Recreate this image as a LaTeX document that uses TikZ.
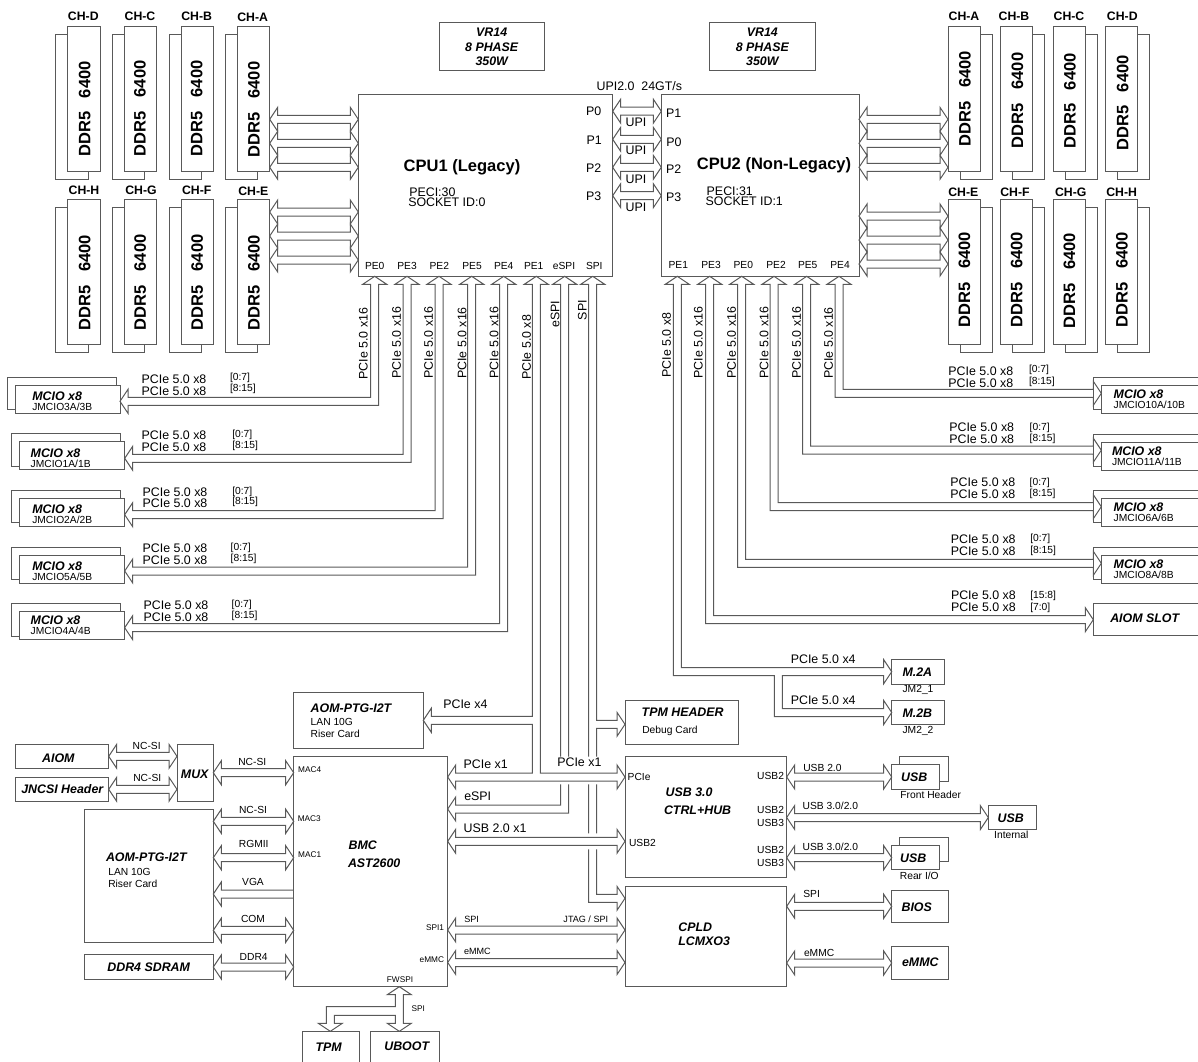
\documentclass[tikz,border=0pt]{standalone}
\usepackage{fontspec}
\setmainfont{Liberation Sans}
\usetikzlibrary{calc,fit}

\definecolor{linecol}{gray}{0.35}

\tikzset{
  block/.style={draw=linecol, line width=.75pt, fill=white, inner sep=0pt, outer sep=0pt},
  bus/.style={draw=linecol, line width=.75pt, line join=miter},
  txt/.style={inner sep=0pt, outer sep=0pt, text=black},
  bigbold/.style={txt, font=\fontsize{12.4}{14}\selectfont\bfseries},
  chanbold/.style={txt, font=\fontsize{9.2}{11}\selectfont\bfseries},
  boxtitle/.style={txt, font=\fontsize{9.3}{11}\selectfont\bfseries\itshape},
  mainlab/.style={txt, font=\fontsize{9.3}{11}\selectfont},
  minorlab/.style={txt, font=\fontsize{7.7}{9}\selectfont},
  pinlab/.style={txt, font=\fontsize{6.2}{7}\selectfont}
}

\newcommand{\hbus}[3]{
  \draw[bus] (#1.east|-0,#3) -- ++(8,-12) -- ++(0,8) -- ($(#2.west|-0,#3)+(-8,-4)$) -- ++(0,-8) -- (#2.west|-0,#3)
    -- ++(-8,12) -- ++(0,-8) -- ($(#1.east|-0,#3)+(8,4)$) -- ++(0,8) -- cycle;
}
\newcommand{\lbus}[3]{
  \draw[bus] (#2.west|-0,#3-4) -- ($(#1.east|-0,#3)+(8,-4)$) -- ++(0,-8) -- (#1.east|-0,#3) -- ++(8,12) -- ++(0,-8) -- (#2.west|-0,#3+4);
}
\newcommand{\busleft}[4]{
  \draw[bus] (#1.south-|#2,0) -- ++(-12,8) -- ++(8,0) -- (#2-4,#3-4) -- ($(#4.east|-0,#3)+(8,-4)$) -- ++(0,-8) -- (#4.east|-0,#3)
    -- ++(8,12) -- ++(0,-8) -- (#2+4,#3+4) -- ($(#1.south-|#2,0)+(4,8)$) -- ++(8,0) -- cycle;
}
\newcommand{\busright}[4]{
  \draw[bus] (#1.south-|#2,0) -- ++(12,8) -- ++(-8,0) -- (#2+4,#3-4) -- ($(#4.west|-0,#3)+(-8,-4)$) -- ++(0,-8) -- (#4.west|-0,#3)
    -- ++(-8,12) -- ++(0,-8) -- (#2-4,#3+4) -- ($(#1.south-|#2,0)+(-4,8)$) -- ++(-8,0) -- cycle;
}
\newcommand{\dimml}[8]{
  \draw[bus] (#2,#3+8) -- (#2-12,#3+8) -- (#2-12,#3+153) -- (#2+20.6,#3+153) -- (#2+20.6,#3+145);
  \node[block, fit={(#2,#3)(#2+32.4,#3+145)}] (#1) {};
  \node[chanbold] (#1lab) at (#5,#6) {#4};
  \node[bigbold, rotate=90] (#1txt) at (#7,#8) {DDR5\ \ \ 6400};
}
\newcommand{\dimmr}[8]{
  \draw[bus] (#2+32.4,#3+8) -- (#2+44.4,#3+8) -- (#2+44.4,#3+153) -- (#2+12,#3+153) -- (#2+12,#3+145);
  \node[block, fit={(#2,#3)(#2+32.4,#3+145)}] (#1) {};
  \node[chanbold] (#1lab) at (#5,#6) {#4};
  \node[bigbold, rotate=90] (#1txt) at (#7,#8) {DDR5\ \ \ 6400};
}
\newcommand{\mciol}[8]{
  \draw[bus] (#2,#4+24.4) -- (#2-8,#4+24.4) -- (#2-8,#4-8) -- (#3-4,#4-8) -- (#3-4,#4);
  \node[block, fit={(#2,#4)(#3,#4+28)}] (#1) {};
  \node[boxtitle, anchor=west] (#1tit) at (#5,#6) {MCIO x8};
  \node[minorlab, anchor=west] (#1jm) at (#5,#7) {#8};
}
\newcommand{\mcior}[7]{
  \draw[bus] (#2,#3+24) -- (#2-8,#3+24) -- (#2-8,#3-8) -- (1199,#3-8);
  \node[block, fit={(#2,#3)(1199,#3+28)}] (#1) {};
  \node[boxtitle, anchor=west] (#1tit) at (#4,#5) {MCIO x8};
  \node[minorlab, anchor=west] (#1jm) at (#4,#6) {#7};
}
\newcommand{\pcielabs}[9]{
  \node[mainlab] (#1a) at (#2,#3) {PCIe 5.0 x8};
  \node[mainlab] (#1b) at (#2,#4) {PCIe 5.0 x8};
  \node[minorlab, anchor=west] (#1c) at (#5,#6) {#8};
  \node[minorlab, anchor=west] (#1d) at (#5,#7) {#9};
}

\begin{document}
\begin{tikzpicture}[x=.75pt,y=-.75pt]
  \useasboundingbox (0,0) rectangle (1198,1061);

  \dimml{chd}{67.7}{26.7}{CH-D}{83.3}{16.7}{84.7}{109}
  \dimml{chc}{124.3}{26.7}{CH-C}{140}{16.7}{140}{108.3}
  \dimml{chb}{181}{26.7}{CH-B}{196.7}{16.7}{196.7}{108.3}
  \dimml{cha}{237.3}{26.7}{CH-A}{252.7}{17.3}{254}{109.5}
  \dimml{chh}{67.7}{199.7}{CH-H}{84}{190.7}{84.7}{282.7}
  \dimml{chg}{124.3}{199.7}{CH-G}{141}{190.7}{140.3}{282.3}
  \dimml{chf}{181}{199.7}{CH-F}{196.7}{190.7}{197.3}{282.3}
  \dimml{che}{237.3}{199.7}{CH-E}{253.3}{191.7}{254}{282.7}

  \dimmr{rcha}{948}{26.7}{CH-A}{964}{16.7}{965}{98.7}
  \dimmr{rchb}{1000.3}{26.7}{CH-B}{1014}{16.7}{1017.3}{100.5}
  \dimmr{rchc}{1053}{26.7}{CH-C}{1069}{16.7}{1070}{101}
  \dimmr{rchd}{1105.3}{26.7}{CH-D}{1122.3}{16.7}{1122.7}{103}
  \dimmr{rche}{948}{199.7}{CH-E}{963.3}{192}{964.3}{279.7}
  \dimmr{rchf}{1000.3}{199.7}{CH-F}{1015}{192}{1016.7}{279.7}
  \dimmr{rchg}{1053}{199.7}{CH-G}{1070.7}{192}{1069.3}{280.8}
  \dimmr{rchh}{1105.3}{199.7}{CH-H}{1121.7}{192}{1122}{279.7}

  \node[block, fit={(439,22.3)(544.7,70.7)}] (vra) {};
  \node[boxtitle, align=center] (vratxt) at (491.7,47) {VR14\\[-.2pt]8 PHASE\\[-.4pt]350W};
  \node[block, fit={(709.3,22.3)(815,70.7)}] (vrb) {};
  \node[boxtitle, align=center] (vrbtxt) at (762.3,47) {VR14\\[-.2pt]8 PHASE\\[-.4pt]350W};

  \node[block, fit={(358.3,94.7)(612.7,276.3)}] (cpua) {};
  \node[block, fit={(661.3,94.7)(859,276.3)}] (cpub) {};
  \node[bigbold] (cpuatit) at (462,167.3) {CPU1 (Legacy)};
  \node[bigbold] (cpubtit) at (774,165.3) {CPU2 (Non-Legacy)};
  \node[mainlab, anchor=west] (cpuapeci) at (409.3,192.3) {PECI:30};
  \node[mainlab, anchor=west] (cpuasock) at (408.3,202.7) {SOCKET ID:0};
  \node[mainlab, anchor=west] (cpubpeci) at (706.7,191) {PECI:31};
  \node[mainlab, anchor=west] (cpubsock) at (705.7,201.7) {SOCKET ID:1};
  \node[mainlab] (upispeed) at (639.3,86) {UPI2.0\ \ 24GT/s};

  \node[mainlab] (pa0) at (593.7,111.3) {P0};
  \node[mainlab] (pa1) at (594.3,140) {P1};
  \node[mainlab] (pa2) at (593.7,168.3) {P2};
  \node[mainlab] (pa3) at (593.7,196.7) {P3};
  \node[mainlab] (pb1) at (673.7,113.7) {P1};
  \node[mainlab] (pb0) at (674,142.3) {P0};
  \node[mainlab] (pb2) at (673.7,169.3) {P2};
  \node[mainlab] (pb3) at (673.7,197.7) {P3};
  \node[mainlab] (upia) at (636,122.7) {UPI};
  \node[mainlab] (upib) at (636,150.7) {UPI};
  \node[mainlab] (upic) at (636,179) {UPI};
  \node[mainlab] (upid) at (636,207) {UPI};

  \node[minorlab] (pea0) at (374.7,266) {PE0};
  \node[minorlab] (pea3) at (407,266) {PE3};
  \node[minorlab] (pea2) at (439.3,266) {PE2};
  \node[minorlab] (pea5) at (472,266) {PE5};
  \node[minorlab] (pea4) at (503.7,266) {PE4};
  \node[minorlab] (pea1) at (533.7,266) {PE1};
  \node[minorlab] (peaes) at (564,266) {eSPI};
  \node[minorlab] (peasp) at (594.3,266) {SPI};
  \node[minorlab] (peb1) at (678.3,265.3) {PE1};
  \node[minorlab] (peb3) at (711,265.3) {PE3};
  \node[minorlab] (peb0) at (743.3,265.3) {PE0};
  \node[minorlab] (peb2) at (776,265.3) {PE2};
  \node[minorlab] (peb5) at (807.7,265.3) {PE5};
  \node[minorlab] (peb4) at (840,265.3) {PE4};

  \node[mainlab, rotate=90] (wa0) at (363.3,343.7) {PCIe 5.0 x16};
  \node[mainlab, rotate=90] (wa3) at (396.7,342.7) {PCIe 5.0 x16};
  \node[mainlab, rotate=90] (wa2) at (428.7,342.7) {PCIe 5.0 x16};
  \node[mainlab, rotate=90] (wa5) at (462,343) {PCIe 5.0 x16};
  \node[mainlab, rotate=90] (wa4) at (494,342.7) {PCIe 5.0 x16};
  \node[mainlab, rotate=90] (wa1) at (526.7,347.3) {PCIe 5.0 x8};
  \node[mainlab, rotate=90] (waes) at (555,314) {eSPI};
  \node[mainlab, rotate=90] (wasp) at (582.3,310) {SPI};
  \node[mainlab, rotate=90] (wb1) at (666.7,345) {PCIe 5.0 x8};
  \node[mainlab, rotate=90] (wb3) at (698.3,342.7) {PCIe 5.0 x16};
  \node[mainlab, rotate=90] (wb0) at (731.7,342.7) {PCIe 5.0 x16};
  \node[mainlab, rotate=90] (wb2) at (764,342.7) {PCIe 5.0 x16};
  \node[mainlab, rotate=90] (wb5) at (796.5,342.7) {PCIe 5.0 x16};
  \node[mainlab, rotate=90] (wb4) at (828.5,343) {PCIe 5.0 x16};

  \mciol{jmcioa}{15.3}{120}{385.3}{32.3}{396.3}{407}{JMCIO3A/3B}
  \mciol{jmciob}{19.3}{124.7}{441.7}{30.7}{453.7}{464.3}{JMCIO1A/1B}
  \mciol{jmcioc}{19.3}{124.7}{498.3}{32.3}{509.7}{520.3}{JMCIO2A/2B}
  \mciol{jmciod}{19.3}{124.7}{555}{32.3}{566.7}{577}{JMCIO5A/5B}
  \mciol{jmcioe}{19.3}{124.7}{611.7}{30.7}{620}{631}{JMCIO4A/4B}
  \pcielabs{la}{174}{379.7}{391.3}{230}{378.3}{389.3}{[0:7]}{[8:15]}
  \pcielabs{lb}{174}{435.3}{447}{232.3}{435.3}{446}{[0:7]}{[8:15]}
  \pcielabs{lc}{175}{492}{503.7}{232.3}{491.7}{502.3}{[0:7]}{[8:15]}
  \pcielabs{ld}{175}{548.7}{560.3}{230.7}{548.3}{559.3}{[0:7]}{[8:15]}
  \pcielabs{le}{176}{605}{617}{231.7}{605}{615.7}{[0:7]}{[8:15]}

  \mcior{jmciok}{1101.3}{385.7}{1113.7}{394.3}{405}{JMCIO10A/10B}
  \mcior{jmcioj}{1101.3}{442}{1112}{451.3}{462.3}{JMCIO11A/11B}
  \mcior{jmcioh}{1101.3}{498.3}{1113.7}{507.7}{518.3}{JMCIO6A/6B}
  \mcior{jmciog}{1101.3}{555}{1113.7}{564.3}{575.3}{JMCIO8A/8B}
  \node[block, fit={(1093.3,603.3)(1199,635.3)}] (aiomslot) {};
  \node[boxtitle] (aiomslottxt) at (1144.7,618.3) {AIOM SLOT};
  \pcielabs{ra}{980.8}{371}{383}{1029}{370.3}{381.7}{[0:7]}{[8:15]}
  \pcielabs{rb}{981.7}{427.3}{439.3}{1029.7}{427.7}{438.7}{[0:7]}{[8:15]}
  \pcielabs{rc}{982.8}{482.7}{494.7}{1029.7}{482.7}{494.3}{[0:7]}{[8:15]}
  \pcielabs{rd}{983.2}{539.3}{551.3}{1030.3}{539.3}{551}{[0:7]}{[8:15]}
  \pcielabs{re}{983.4}{595.7}{607.3}{1030.3}{595.7}{607.7}{[15:8]}{[7:0]}

  \node[block, fit={(891.7,659.7)(944.3,684)}] (mtwoa) {};
  \node[boxtitle] (mtwoatxt) at (917.3,672.3) {M.2A};
  \node[minorlab] (mtwoajm) at (918,690) {JM2\_1};
  \node[block, fit={(891.7,700.3)(944.3,724.7)}] (mtwob) {};
  \node[boxtitle] (mtwobtxt) at (917.3,713.3) {M.2B};
  \node[minorlab] (mtwobjm) at (918,730.7) {JM2\_2};
  \node[mainlab] (mtwoalab) at (823.2,659.7) {PCIe 5.0 x4};
  \node[mainlab] (mtwoblab) at (823.2,700) {PCIe 5.0 x4};

  \node[block, fit={(293.7,692.7)(423.3,748.3)}] (aoma) {};
  \node[boxtitle, anchor=west] (aomatit) at (310.7,708) {AOM-PTG-I2T};
  \node[minorlab, anchor=west] (aomalan) at (310.7,722.3) {LAN 10G};
  \node[minorlab, anchor=west] (aomaris) at (310.7,734) {Riser Card};
  \node[block, fit={(625,700.3)(738,744.3)}] (tpmhdr) {};
  \node[boxtitle, anchor=west] (tpmhdrtit) at (641.7,712.3) {TPM HEADER};
  \node[minorlab, anchor=west] (tpmhdrdbg) at (642.3,730.8) {Debug Card};

  \node[block, fit={(293.7,756.7)(447.7,986.7)}] (bmc) {};
  \node[boxtitle, anchor=west] (bmctita) at (348.7,845.3) {BMC};
  \node[boxtitle, anchor=west] (bmctitb) at (348,863.3) {AST2600};
  \node[pinlab] (macf) at (309.7,770) {MAC4};
  \node[pinlab] (macc) at (309.3,818.7) {MAC3};
  \node[pinlab] (maca) at (309.7,855) {MAC1};
  \node[pinlab, anchor=east] (spione) at (444,927.7) {SPI1};
  \node[pinlab, anchor=east] (bmcemmc) at (444,960) {eMMC};
  \node[pinlab] (fwspi) at (400,980) {FWSPI};

  \node[block, fit={(15.3,744.7)(108.7,768.7)}] (aiom) {};
  \node[boxtitle] (aiomtxt) at (58.3,758) {AIOM};
  \node[block, fit={(15.3,777)(108.7,801.3)}] (jncsi) {};
  \node[boxtitle] (jncsitxt) at (62.3,788.7) {JNCSI Header};
  \node[block, fit={(177,744.7)(213.3,801.3)}] (mux) {};
  \node[boxtitle] (muxtxt) at (194.7,774.3) {MUX};
  \node[block, fit={(84,809.3)(213.3,942.3)}] (aomb) {};
  \node[boxtitle, anchor=west] (aombtit) at (106,857.7) {AOM-PTG-I2T};
  \node[minorlab, anchor=west] (aomblan) at (108.3,872.3) {LAN 10G};
  \node[minorlab, anchor=west] (aombris) at (108.3,884) {Riser Card};
  \node[block, fit={(84,954.7)(213.3,979)}] (ddrfour) {};
  \node[boxtitle] (ddrfourtxt) at (148.7,967) {DDR4 SDRAM};

  \node[minorlab] (ncsia) at (146.7,746.3) {NC-SI};
  \node[minorlab] (ncsib) at (147.3,777.7) {NC-SI};
  \node[minorlab] (ncsic) at (252.3,761.7) {NC-SI};
  \node[minorlab] (ncsid) at (253,810) {NC-SI};
  \node[minorlab] (rgmii) at (253.7,844.3) {RGMII};
  \node[minorlab] (vgalab) at (253,882.3) {VGA};
  \node[minorlab] (comlab) at (253,918.7) {COM};
  \node[minorlab] (ddrlab) at (253.7,957.3) {DDR4};

  \node[block, fit={(302,1031.3)(359,1063)}] (tpm) {};
  \node[boxtitle] (tpmtxt) at (328.7,1047.7) {TPM};
  \node[block, fit={(370.3,1031.3)(439.3,1063)}] (uboot) {};
  \node[boxtitle] (uboottxt) at (406.7,1046.7) {UBOOT};
  \node[pinlab] (fwlab) at (418.3,1008.3) {SPI};

  \node[block, fit={(625,756.7)(786.7,877.7)}] (usbhub) {};
  \node[boxtitle, anchor=west] (usbhuba) at (665.7,792.7) {USB 3.0};
  \node[boxtitle, anchor=west] (usbhubb) at (664,810.7) {CTRL+HUB};
  \node[minorlab, anchor=west] (usbpcie) at (627.7,777.3) {PCIe};
  \node[minorlab, anchor=west] (usbusbl) at (629,842.7) {USB2};
  \node[minorlab, anchor=east] (usbra) at (784,776) {USB2};
  \node[minorlab, anchor=east] (usbrb) at (784,810) {USB2};
  \node[minorlab, anchor=east] (usbrc) at (784,823.3) {USB3};
  \node[minorlab, anchor=east] (usbrd) at (784,850.3) {USB2};
  \node[minorlab, anchor=east] (usbre) at (784,863.3) {USB3};
  \node[block, fit={(625,886)(786.7,986.7)}] (cpld) {};
  \node[boxtitle, anchor=west] (cplda) at (678.3,927.3) {CPLD};
  \node[boxtitle, anchor=west] (cpldb) at (678.3,941.7) {LCMXO3};

  \draw[bus] (899.3,764.7) -- (899.3,756.7) -- (948.3,756.7) -- (948.3,781) -- (939.7,781);
  \node[block, fit={(891.7,764.7)(939.7,789)}] (usbfront) {};
  \node[boxtitle] (usbfronttxt) at (914.3,777.3) {USB};
  \node[minorlab] (usbfrontlab) at (930.7,795) {Front Header};
  \node[block, fit={(988.3,805.3)(1036.7,829.7)}] (usbint) {};
  \node[boxtitle] (usbinttxt) at (1010.7,818.3) {USB};
  \node[minorlab] (usbintlab) at (1011.3,835) {Internal};
  \draw[bus] (899.3,845.3) -- (899.3,837.3) -- (948.3,837.3) -- (948.3,861.7) -- (939.7,861.7);
  \node[block, fit={(891.7,845.3)(939.7,869.7)}] (usbrear) {};
  \node[boxtitle] (usbreartxt) at (913.3,858) {USB};
  \node[minorlab] (usbrearlab) at (919.3,875.7) {Rear I/O};
  \node[block, fit={(891.7,890)(948.3,922.3)}] (bios) {};
  \node[boxtitle] (biostxt) at (916.7,907) {BIOS};
  \node[block, fit={(891.7,946.7)(948.3,979.3)}] (emmc) {};
  \node[boxtitle] (emmctxt) at (920.3,962.7) {eMMC};

  \node[minorlab, anchor=west] (usbtwo) at (803.3,767.7) {USB 2.0};
  \node[minorlab, anchor=west] (usbtha) at (802.7,806.3) {USB 3.0/2.0};
  \node[minorlab, anchor=west] (usbthb) at (802.7,847) {USB 3.0/2.0};
  \node[minorlab, anchor=west] (biospi) at (803.3,894.3) {SPI};
  \node[minorlab, anchor=west] (emmclab) at (804,952.7) {eMMC};
  \node[mainlab, anchor=west] (pciefour) at (443.3,704.3) {PCIe x4};
  \node[mainlab, anchor=west] (pcieonea) at (463.7,764.3) {PCIe x1};
  \node[mainlab, anchor=west] (pcieoneb) at (557.3,762.7) {PCIe x1};
  \node[mainlab, anchor=west] (espilab) at (464.3,796) {eSPI};
  \node[mainlab, anchor=west] (usbxone) at (463.7,828.7) {USB 2.0 x1};
  \node[pinlab, font=\fontsize{6.8}{8}\selectfont, anchor=west] (cpldspi) at (464.3,919.3) {SPI};
  \node[pinlab, font=\fontsize{6.8}{8}\selectfont] (jtagspi) at (585.8,919.3) {JTAG / SPI};
  \node[pinlab, font=\fontsize{6.8}{8}\selectfont, anchor=west] (cpldemmc) at (464,951.7) {eMMC};

  \hbus{cha}{cpua}{119.3}
  \hbus{cha}{cpua}{143.3}
  \hbus{cha}{cpua}{167.3}
  \hbus{che}{cpua}{212}
  \hbus{che}{cpua}{236}
  \hbus{che}{cpua}{260}
  \hbus{cpub}{rcha}{119.3}
  \hbus{cpub}{rcha}{143.3}
  \hbus{cpub}{rcha}{167.3}
  \hbus{cpub}{rche}{216}
  \hbus{cpub}{rche}{240}
  \hbus{cpub}{rche}{264}
  \hbus{cpua}{cpub}{111.2}
  \hbus{cpua}{cpub}{139.3}
  \hbus{cpua}{cpub}{167.3}
  \hbus{cpua}{cpub}{195.7}

  \busleft{cpua}{374.7}{401.3}{jmcioa}
  \busleft{cpua}{407}{458.3}{jmciob}
  \busleft{cpua}{439}{514.7}{jmcioc}
  \busleft{cpua}{471.7}{571}{jmciod}
  \busleft{cpua}{503.7}{627.7}{jmcioe}
  \busright{cpub}{839}{393.3}{jmciok}
  \busright{cpub}{806.7}{450.2}{jmcioj}
  \busright{cpub}{774}{506.7}{jmcioh}
  \busright{cpub}{741.7}{563.3}{jmciog}
  \busright{cpub}{709.7}{619.7}{aiomslot}

  \draw[bus] (cpub.south-|677.3,0) -- ++(12,8) -- ++(-8,0) -- (681.3,667.7) -- ($(mtwoa.west|-0,671.7)+(-8,-4)$) -- ++(0,-8) -- (mtwoa.west|-0,671.7)
    -- ++(-8,12) -- ++(0,-8) -- (782.3,675.7) -- (782.3,708.5) -- ($(mtwob.west|-0,712.5)+(-8,-4)$) -- ++(0,-8) -- (mtwob.west|-0,712.5)
    -- ++(-8,12) -- ++(0,-8) -- (774.3,716.5) -- (774.3,675.7) -- (673.3,675.7) -- (673.3,284.3) -- ++(-8,0) -- cycle;

  \draw[bus] (cpua.south-|536.3,0) -- ++(12,8) -- ++(-8,0) -- (540.3,773) -- ($(usbhub.west|-0,777)+(-8,-4)$) -- ++(0,-8) -- (usbhub.west|-0,777)
    -- ++(-8,12) -- ++(0,-8) -- ($(bmc.east|-0,777)+(8,4)$) -- ++(0,8) -- (bmc.east|-0,777) -- ++(8,-12) -- ++(0,8)
    -- (532.3,773) -- (532.3,724.3) -- ($(aoma.east|-0,720.3)+(8,4)$) -- ++(0,8) -- (aoma.east|-0,720.3) -- ++(8,-12) -- ++(0,8)
    -- (532.3,716.3) -- (532.3,284.3) -- ++(-8,0) -- cycle;

  \draw[bus] (bmc.east|-0,809) -- ++(8,-12) -- ++(0,8) -- (560.7,805) -- (560.7,784.3) (560.7,756.7) -- (560.7,284.3) -- ++(-8,0)
    -- (cpua.south-|564.7,0) -- ++(12,8) -- ++(-8,0) -- (568.7,756.7) (568.7,784.3) -- (568.7,813) -- ($(bmc.east|-0,809)+(8,4)$) -- ++(0,8) -- (bmc.east|-0,809);

  \draw[bus] (cpua.south-|592.7,0) -- ++(-12,8) -- ++(8,0) -- (588.7,756.7) (588.7,784.3) -- (588.7,833.3) (588.7,849.3) -- (588.7,902.3)
    -- ($(cpld.west|-0,898.3)+(-8,4)$) -- ++(0,8) -- (cpld.west|-0,898.3) -- ++(-8,-12) -- ++(0,8) -- (596.7,894.3) -- (596.7,849.3)
    (596.7,833.3) -- (596.7,784.3) (596.7,756.7) -- (596.7,728.3) -- ($(tpmhdr.west|-0,724.3)+(-8,4)$) -- ++(0,8) -- (tpmhdr.west|-0,724.3)
    -- ++(-8,-12) -- ++(0,8) -- (596.7,720.3) -- (596.7,284.3) -- ++(8,0) -- (cpua.south-|592.7,0);

  \hbus{aiom}{mux}{756.3}
  \hbus{jncsi}{mux}{789.3}
  \hbus{mux}{bmc}{772.7}
  \hbus{aomb}{bmc}{821.3}
  \hbus{aomb}{bmc}{857.7}
  \lbus{aomb}{bmc}{894}
  \hbus{aomb}{bmc}{930.3}
  \hbus{ddrfour}{bmc}{967}
  \hbus{bmc}{usbhub}{841.3}
  \hbus{bmc}{cpld}{930}
  \hbus{bmc}{cpld}{962.5}
  \hbus{usbhub}{usbfront}{777}
  \hbus{usbhub}{usbint}{817.5}
  \hbus{usbhub}{usbrear}{857.7}
  \hbus{cpld}{bios}{906.3}
  \hbus{cpld}{emmc}{963}

  \draw[bus] (bmc.south-|399.3,0) -- ++(12,8) -- ++(-8,0) -- (403.3,1023.3) -- ++(8,0) -- (uboot.north-|399.3,0) -- ++(-12,-8) -- ++(8,0)
    -- (395.3,1015.3) -- (334.3,1015.3) -- (334.3,1023.3) -- ++(8,0) -- (tpm.north-|330.3,0) -- ++(-12,-8) -- ++(8,0)
    -- (326.3,1006.7) -- (395.3,1006.7) -- (395.3,994.7) -- ++(-8,0) -- cycle;
\end{tikzpicture}
\end{document}
